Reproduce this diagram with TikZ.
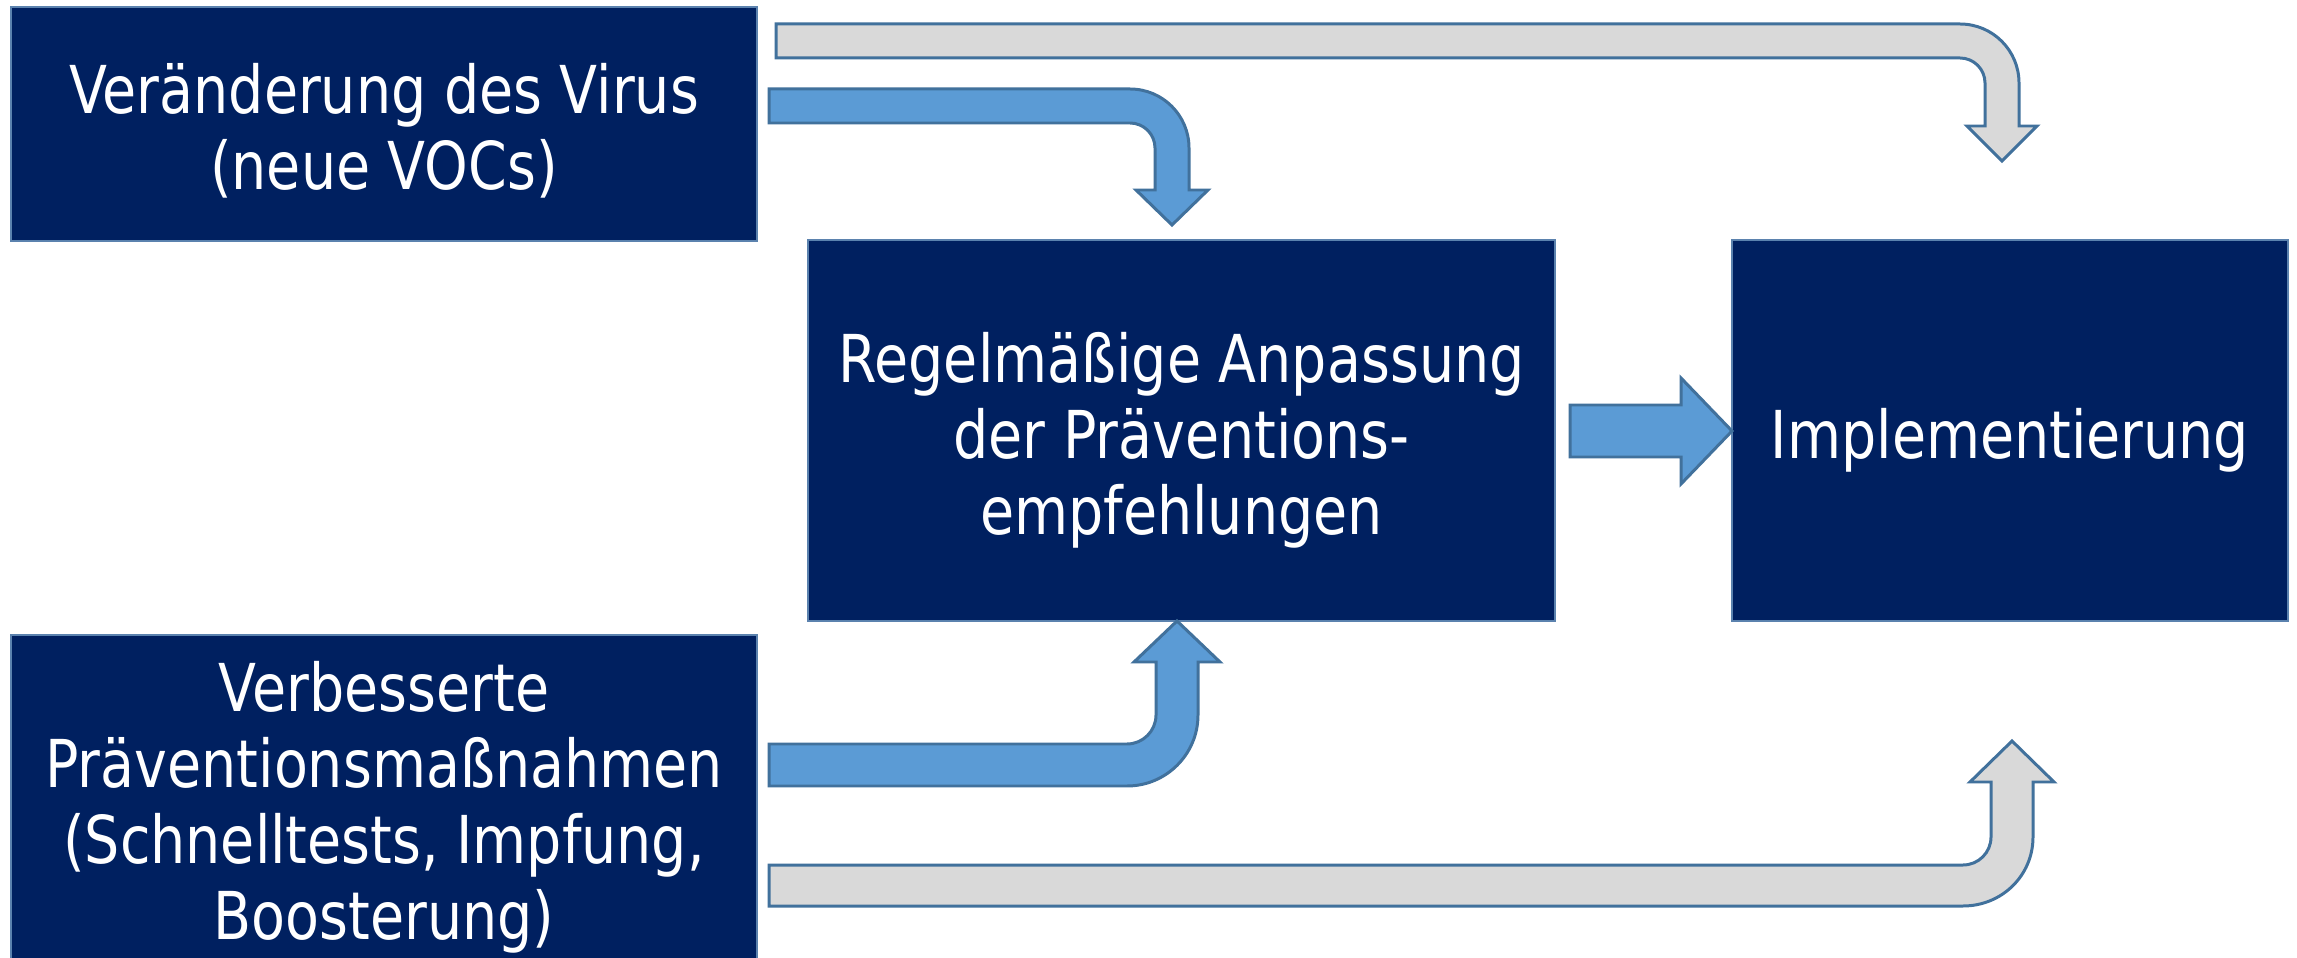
\documentclass[tikz,border=0pt]{standalone}
\usepackage{fontspec}
\setmainfont{DejaVu Sans}[FakeStretch=0.84]
\begin{document}
\begin{tikzpicture}[x=0.01cm, y=-0.01cm,
  box/.style={draw=boxline, line width=0.7pt, fill=navy, inner sep=0pt, outer sep=0pt},
  txt/.style={text=white, align=center, inner sep=0pt,
    font=\fontsize{18.78pt}{21.62pt}\selectfont},
  bluearrow/.style={draw=arrowline, line width=0.85pt, fill=arrowblue, line join=miter},
  grayarrow/.style={draw=arrowline, line width=0.85pt, fill=arrowgray, line join=miter}]
\definecolor{navy}{HTML}{002060}
\definecolor{boxline}{HTML}{5B82AE}
\definecolor{arrowline}{HTML}{41719C}
\definecolor{arrowblue}{HTML}{5B9BD5}
\definecolor{arrowgray}{HTML}{D9D9D9}

\fill[white] (0,0) rectangle (2297,958);
\useasboundingbox (0,0) rectangle (2297,958);

% boxes
\node[box, minimum width=7.46cm, minimum height=2.34cm] (virus) at (384,124) {};
\node[box, minimum width=7.46cm, minimum height=3.65cm] (mass) at (384,817.5) {};
\node[box, minimum width=7.47cm, minimum height=3.81cm] (anp) at (1181.5,430.5) {};
\node[box, minimum width=5.56cm, minimum height=3.81cm] (impl) at (2010,430.5) {};

% box texts
\node[txt] (virusT) at (384,131) {Veränderung des Virus\\(neue VOCs)};
\node[txt] (massT) at (384,807) {Verbesserte\\Präventionsmaßnahmen\\(Schnelltests, Impfung,\\Boosterung)};
\node[txt] (anpT) at (1181.5,440) {Regelmäßige Anpassung\\der Präventions-\\empfehlungen};
\node[txt] (implT) at (2010,440) {Implementierung};

% virus -> implementation (gray, over the top)
\draw[grayarrow] (776,24) -- (1960,24) .. controls (1992.6,24) and (2019,50.4) .. (2019,83)
  -- (2019,126) -- (2037,126) -- (2002,161) -- (1967,126) -- (1985,126) -- (1985,83)
  .. controls (1985,69.2) and (1973.8,58) .. (1960,58) -- (776,58) -- cycle;

% virus -> adaptation (blue)
\draw[bluearrow] (769,89) -- (1130,89) .. controls (1162.6,89) and (1189,115.4) .. (1189,148)
  -- (1189,190) -- (1208,190) -- (1172,225) -- (1136,190) -- (1155,190) -- (1155,148)
  .. controls (1155,134.2) and (1143.8,123) .. (1130,123) -- (769,123) -- cycle;

% adaptation -> implementation
\draw[bluearrow] (1570,405) -- (1681,405) -- (1681,378) -- (1732,431) -- (1681,484)
  -- (1681,457) -- (1570,457) -- cycle;

% measures -> adaptation (blue)
\draw[bluearrow] (769,786) -- (1127,786) .. controls (1166.2,786) and (1198,754.2) .. (1198,715)
  -- (1198,662) -- (1220,662) -- (1177,621) -- (1134,662) -- (1156,662) -- (1156,715)
  .. controls (1156,731) and (1143,744) .. (1127,744) -- (769,744) -- cycle;

% measures -> implementation (gray, along the bottom)
\draw[grayarrow] (769,906) -- (1963,906) .. controls (2001.7,906) and (2033,875.7) .. (2033,837)
  -- (2033,782) -- (2054,782) -- (2012,741) -- (1970,782) -- (1991,782) -- (1991,837)
  .. controls (1991,852.5) and (1978.5,865) .. (1963,865) -- (769,865) -- cycle;
\end{tikzpicture}
\end{document}
